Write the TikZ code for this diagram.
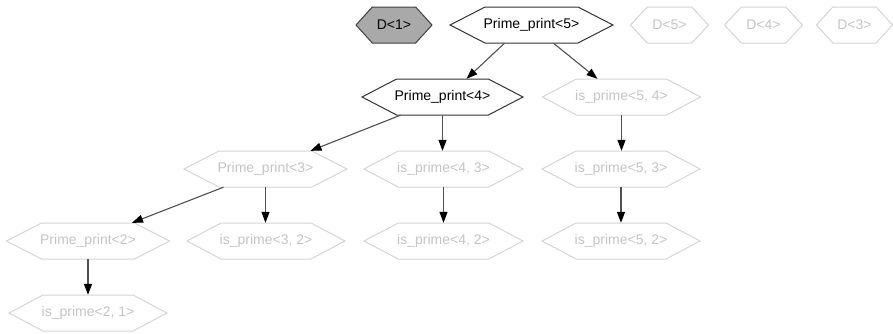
\documentclass[tikz,border=0pt]{standalone}
\usepackage{fontspec}
\setmainfont{Liberation Sans}
\usetikzlibrary{arrows.meta}
\definecolor{fadeline}{HTML}{D4D4D4}
\definecolor{fadetext}{HTML}{C4C4C4}
\definecolor{dfill}{HTML}{A9A9A9}
\definecolor{edgecol}{HTML}{505050}
\tikzset{
  actline/.style={draw=black!80, line width=1pt, line join=miter},
  dline/.style={draw=black!75, fill=dfill, line width=1pt},
  fline/.style={draw=fadeline, line width=1pt},
  acttext/.style={text=black},
  fadetxt/.style={text=fadetext},
  conn/.style={draw=edgecol, line width=1.1pt, -{Triangle[length=11pt,width=8pt,color=black,fill=black]}},
}
\newcommand\hexnode[7]{%
  \draw[#5] ({#2-#4/2},#3) -- ({#2-0.285*#4},{#3-18}) -- ({#2+0.285*#4},{#3-18}) -- ({#2+#4/2},#3) -- ({#2+0.285*#4},{#3+18}) -- ({#2-0.285*#4},{#3+18}) -- cycle;
  \node[#6, minimum width=#4, minimum height=36, inner sep=0, font=\fontsize{14}{16}\selectfont] (#1) at (#2,#3) {#7};
}
\begin{document}
\begin{tikzpicture}[x=1pt, y=-1pt]
\useasboundingbox (0,0) rectangle (893,333);
% row 1
\hexnode{D1}{394}{25}{76}{dline}{acttext}{D<1>}
\hexnode{P5}{531.5}{25}{163}{actline}{acttext}{Prime\_print<5>}
\hexnode{D5}{669.5}{25}{78}{fline}{fadetxt}{D<5>}
\hexnode{D4}{763.5}{25}{78}{fline}{fadetxt}{D<4>}
\hexnode{D3}{854.5}{25}{76}{fline}{fadetxt}{D<3>}
% row 2
\hexnode{P4}{442.5}{97}{161}{actline}{acttext}{Prime\_print<4>}
\hexnode{I54}{621.5}{97}{158}{fline}{fadetxt}{is\_prime<5, 4>}
% row 3
\hexnode{P3}{265.5}{169}{163}{fline}{fadetxt}{Prime\_print<3>}
\hexnode{I43}{443.5}{169}{159}{fline}{fadetxt}{is\_prime<4, 3>}
\hexnode{I53}{621}{169}{158}{fline}{fadetxt}{is\_prime<5, 3>}
% row 4
\hexnode{P2}{88}{241}{163}{fline}{fadetxt}{Prime\_print<2>}
\hexnode{I32}{266}{241}{158}{fline}{fadetxt}{is\_prime<3, 2>}
\hexnode{I42}{443.5}{241}{159}{fline}{fadetxt}{is\_prime<4, 2>}
\hexnode{I52}{621}{241}{158}{fline}{fadetxt}{is\_prime<5, 2>}
% row 5
\hexnode{I21}{88}{313}{158}{fline}{fadetxt}{is\_prime<2, 1>}
% connectors
\draw[conn] ([xshift=-27pt]P5.south) -- ([xshift=24pt]P4.north);
\draw[conn] ([xshift=22pt]P5.south) -- ([xshift=-24pt]I54.north);
\draw[conn] ([xshift=-42pt]P4.south) -- ([xshift=45pt]P3.north);
\draw[conn] (P4.south) -- (P4.south |- I43.north);
\draw[conn] (I54.south) -- (I54.south |- I53.north);
\draw[conn] ([xshift=-42pt]P3.south) -- ([xshift=44pt]P2.north);
\draw[conn] (P3.south) -- (P3.south |- I32.north);
\draw[conn] (I43.south) -- (I43.south |- I42.north);
\draw[conn] (I53.south) -- (I53.south |- I52.north);
\draw[conn] (P2.south) -- (P2.south |- I21.north);
\end{tikzpicture}
\end{document}
